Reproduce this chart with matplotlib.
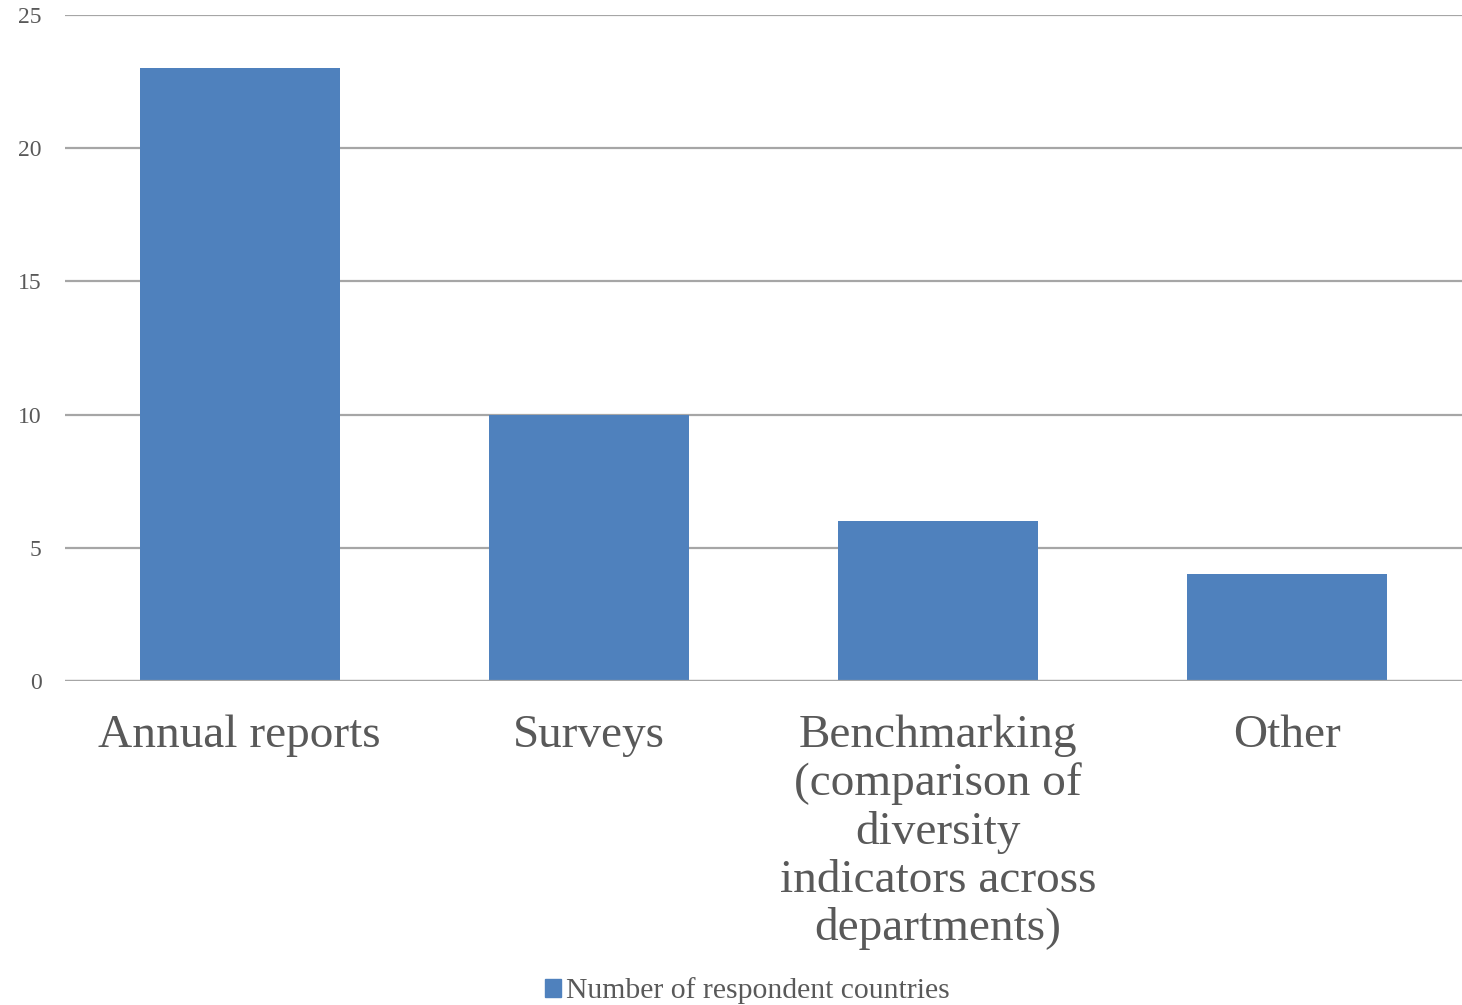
import matplotlib.pyplot as plt
import matplotlib.patches as mpatches

plt.rcParams['font.family'] = ['Liberation Serif', 'DejaVu Serif']

# Data
categories = [
    'Annual reports',
    'Surveys',
    'Benchmarking\n(comparison of\ndiversity\nindicators across\ndepartments)',
    'Other',
]
respondents = [23, 10, 6, 4]
series_name = 'Number of respondent countries'

bar_color = '#4F81BD'
text_color = '#595959'
grid_color = '#A6A6A6'

fig = plt.figure(figsize=(14.62, 10.05), dpi=100)
ax = fig.add_axes([0.0445, 0.3224, 0.9555, 0.6626])

x = range(len(categories))
ax.bar(x, respondents, width=0.573, color=bar_color, zorder=3)

ax.set_xlim(-0.5, len(categories) - 0.5)
ax.set_ylim(0, 25)
ax.set_yticks([0, 5, 10, 15, 20, 25])
ax.yaxis.grid(True, color=grid_color, linewidth=1.6, zorder=0)
ax.tick_params(axis='y', length=0, pad=17, labelsize=17, labelcolor=text_color)
ax.tick_params(axis='x', length=0, pad=24, labelsize=34, labelcolor=text_color)
ax.set_xticks(list(x))
ax.set_xticklabels(categories, linespacing=1.17, va='top')

for s in ax.spines.values():
    s.set_visible(False)
ax.axhline(0, color=grid_color, linewidth=1.6, zorder=4)

handle = mpatches.Patch(color=bar_color, label=series_name)
fig.legend(handles=[handle], loc='center', bbox_to_anchor=(0.511, 0.014),
           frameon=False, fontsize=21.3, labelcolor=text_color,
           handlelength=0.55, handleheight=0.55, handletextpad=0.15,
           borderaxespad=0)

fig.savefig('out.png', dpi=100)
